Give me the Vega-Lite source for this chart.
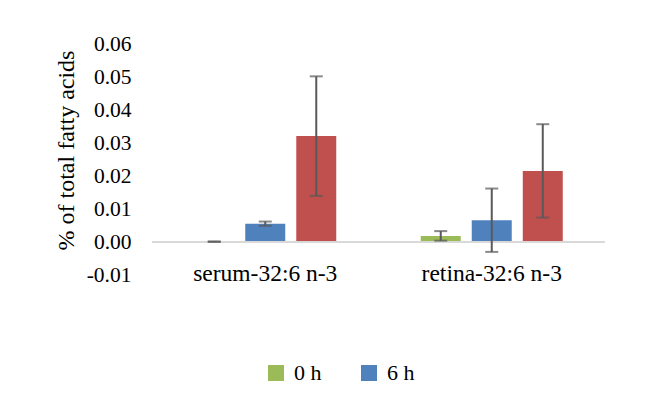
{
  "$schema": "https://vega.github.io/schema/vega-lite/v6.json",
  "autosize": "none",
  "width": 453,
  "height": 231,
  "padding": {"left": 152, "top": 44, "right": 60, "bottom": 128},
  "background": "white",
  "config": {
    "view": {"stroke": null},
    "font": "Liberation Serif",
    "axis": {"labelFont": "Liberation Serif", "titleFont": "Liberation Serif", "labelColor": "black", "titleColor": "black"},
    "legend": {"labelFont": "Liberation Serif", "labelColor": "black"}
  },
  "data": {
    "values": [
      {"tissue": "serum-32:6 n-3", "time": "0 h", "value": 0.0001, "lo": 0.0000, "hi": 0.0002},
      {"tissue": "serum-32:6 n-3", "time": "6 h", "value": 0.0055, "lo": 0.0049, "hi": 0.0062},
      {"tissue": "serum-32:6 n-3", "time": "24 h", "value": 0.0321, "lo": 0.0140, "hi": 0.0502},
      {"tissue": "retina-32:6 n-3", "time": "0 h", "value": 0.0018, "lo": 0.0004, "hi": 0.0033},
      {"tissue": "retina-32:6 n-3", "time": "6 h", "value": 0.0066, "lo": -0.0030, "hi": 0.0162},
      {"tissue": "retina-32:6 n-3", "time": "24 h", "value": 0.0215, "lo": 0.0074, "hi": 0.0357}
    ]
  },
  "encoding": {
    "x": {
      "field": "tissue",
      "type": "nominal",
      "sort": ["serum-32:6 n-3", "retina-32:6 n-3"],
      "scale": {"paddingInner": 0, "paddingOuter": 0},
      "axis": {
        "title": null,
        "labelAngle": 0,
        "labelFont": "Liberation Serif",
        "labelFontSize": 23.5,
        "ticks": false,
        "domain": false,
        "offset": -16,
        "labelPadding": 2
      }
    },
    "xOffset": {
      "field": "time",
      "type": "nominal",
      "sort": ["0 h", "6 h", "24 h"],
      "scale": {"paddingInner": 0.216, "paddingOuter": 0.828}
    }
  },
  "layer": [
    {
      "mark": {"type": "bar"},
      "encoding": {
        "y": {
          "field": "value",
          "type": "quantitative",
          "scale": {"domain": [-0.01, 0.06], "nice": false, "zero": false},
          "axis": {
            "title": "% of total fatty acids",
            "values": [-0.01, 0, 0.01, 0.02, 0.03, 0.04, 0.05, 0.06],
            "tickCount": 8,
            "labelExpr": "replace(format(datum.value, '.2f'), '\u2212', '-')",
            "labelOverlap": false,
            "labelFont": "Liberation Serif",
            "titleFont": "Liberation Serif",
            "labelFontSize": 21.5,
            "titleFontSize": 24,
            "titleFontWeight": "normal",
            "grid": false,
            "ticks": false,
            "domain": false,
            "labelPadding": 21,
            "titleX": -86,
            "titleY": 106,
            "titleAngle": -90,
            "titleAlign": "center",
            "titleBaseline": "middle"
          }
        },
        "y2": {"datum": 0},
        "color": {
          "field": "time",
          "type": "nominal",
          "scale": {"domain": ["0 h", "6 h", "24 h"], "range": ["#9BBB59", "#4F81BD", "#C0504D"]},
          "legend": {
            "title": null,
            "values": ["0 h", "6 h"],
            "orient": "none",
            "direction": "horizontal",
            "legendX": 113,
            "legendY": 318,
            "symbolType": "square",
            "symbolSize": 256,
            "symbolStrokeWidth": 0,
            "labelFontSize": 22,
            "labelFont": "Liberation Serif",
            "labelColor": "black",
            "labelOffset": 7,
            "columnPadding": 36
          }
        }
      }
    },
    {
      "mark": {"type": "rule", "color": "#D9D9D9", "strokeWidth": 1.5},
      "encoding": {"y": {"datum": 0}, "x": null, "xOffset": null}
    },
    {
      "mark": {"type": "rule", "color": "#595959", "strokeWidth": 2},
      "encoding": {
        "y": {"field": "lo", "type": "quantitative"},
        "y2": {"field": "hi"}
      }
    },
    {
      "mark": {"type": "tick", "color": "#595959", "thickness": 2, "size": 13},
      "encoding": {"y": {"field": "lo", "type": "quantitative"}}
    },
    {
      "mark": {"type": "tick", "color": "#595959", "thickness": 2, "size": 13},
      "encoding": {"y": {"field": "hi", "type": "quantitative"}}
    }
  ]
}
